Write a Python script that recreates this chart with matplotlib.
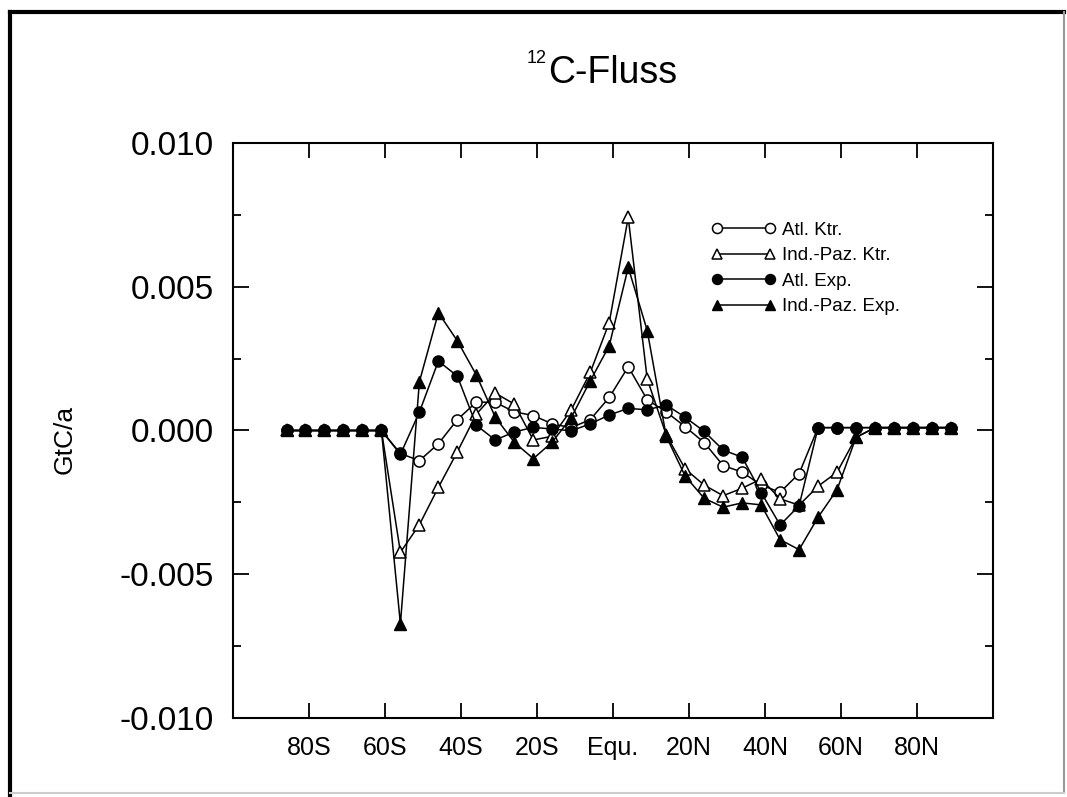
import matplotlib
matplotlib.use('Agg')
import matplotlib.pyplot as plt
from matplotlib.lines import Line2D

plt.rcParams['font.family'] = ['Liberation Sans', 'DejaVu Sans']

# latitude of the model boxes (deg, negative = south)
LAT = [-86, -81, -76, -71, -66, -61, -56, -51, -46, -41, -36, -31,
       -26, -21, -16, -11, -6, -1, 4, 9, 14, 19, 24, 29,
       34, 39, 44, 49, 54, 59, 64, 69, 74, 79, 84, 89]

ATL_KTR = [0, 0, 0, 0, 0, 0, -0.0008, -0.00105, -0.00046, 0.00038, 0.00099, 0.00098,
           0.00065, 0.00052, 0.00023, 0.0001, 0.00038, 0.00115, 0.00222, 0.00107, 0.00065, 0.00013, -0.00042, -0.00122,
           -0.00145, -0.0019, -0.00215, -0.0015, 0.0001, 0.0001, 0.0001, 0.0001, 0.0001, 0.0001, 0.0001, 0.0001]

IND_KTR = [0, 0, 0, 0, 0, 0, -0.00424, -0.00328, -0.00198, -0.00074, 0.00057, 0.0013,
           0.00092, -0.00033, -0.0002, 0.00072, 0.00202, 0.00376, 0.00742, 0.00179, -0.00015, -0.00134, -0.0019, -0.00227,
           -0.00201, -0.00169, -0.00238, -0.0026, -0.00194, -0.00145, -0.00024, 0.0001, 0.0001, 0.0001, 0.0001, 0.0001]

ATL_EXP = [0, 0, 0, 0, 0, 0, -0.00083, 0.00064, 0.00242, 0.00189, 0.00018, -0.00033,
           -0.00005, 0.00011, 0.00005, -0.00001, 0.00023, 0.00054, 0.00077, 0.00072, 0.00089, 0.00046, -0.00003, -0.00068,
           -0.00093, -0.00216, -0.00329, -0.00262, 0.0001, 0.0001, 0.0001, 0.0001, 0.0001, 0.0001, 0.0001, 0.0001]

IND_EXP = [0, 0, 0, 0, 0, 0, -0.00673, 0.0017, 0.0041, 0.00312, 0.00193, 0.00046,
           -0.00041, -0.00098, -0.0004, 0.00045, 0.00173, 0.00295, 0.00568, 0.00348, -0.0002, -0.00159, -0.00236, -0.00267,
           -0.00252, -0.00259, -0.0038, -0.00415, -0.00302, -0.00206, -0.00024, 0.0001, 0.0001, 0.0001, 0.0001, 0.0001]

LABELS = ['Atl. Ktr.', 'Ind.-Paz. Ktr.', 'Atl. Exp.', 'Ind.-Paz. Exp.']

XTICKS = [-80, -60, -40, -20, 0, 20, 40, 60, 80]
XTICKLABELS = ['80S', '60S', '40S', '20S', 'Equ.', '20N', '40N', '60N', '80N']
YTICKS = [-0.01, -0.005, 0.0, 0.005, 0.01]
YTICKLABELS = ['-0.010', '-0.005', '0.000', '0.005', '0.010']
YMINOR = [-0.0075, -0.0025, 0.0025, 0.0075]

fig = plt.figure(figsize=(10.67, 7.97), dpi=100)
ax = fig.add_axes([0.2187, 0.0995, 0.7117, 0.7207])

ax.plot(LAT, ATL_KTR, '-', color='k', lw=1.1, marker='o', ms=8,
        mfc='white', mec='k', mew=1.1, label=LABELS[0])
ax.plot(LAT, IND_KTR, '-', color='k', lw=1.1, marker='^', ms=8.5,
        mfc='white', mec='k', mew=1.1, label=LABELS[1])
ax.plot(LAT, ATL_EXP, '-', color='k', lw=1.1, marker='o', ms=8,
        mfc='k', mec='k', label=LABELS[2])
ax.plot(LAT, IND_EXP, '-', color='k', lw=1.1, marker='^', ms=8.5,
        mfc='k', mec='k', label=LABELS[3])

ax.set_xlim(-100, 100)
ax.set_ylim(-0.01, 0.01)
ax.set_xticks(XTICKS)
ax.set_xticklabels(XTICKLABELS)
ax.set_yticks(YTICKS)
ax.set_yticklabels(YTICKLABELS)
ax.set_yticks(YMINOR, minor=True)

ax.tick_params(axis='both', which='both', direction='in', top=True, right=True, width=1.3)
ax.tick_params(axis='y', which='major', length=11.5, labelsize=24, pad=14)
ax.tick_params(axis='y', which='minor', length=5.8)
ax.tick_params(axis='x', which='major', length=10.5, labelsize=18, pad=13)
for sp in ax.spines.values():
    sp.set_linewidth(1.5)

ax.legend(loc='upper left', bbox_to_anchor=(0.629, 0.864), frameon=False,
          fontsize=13.5, handlelength=3.43, handletextpad=0.36, labelspacing=0.45,
          numpoints=2, markerscale=0.9, borderaxespad=0, borderpad=0)

# title: small superscript mass number in front of the element
fig.text(0.5136, 0.896, 'C-Fluss', ha='left', va='baseline', fontsize=27)
fig.text(0.5126, 0.921, '12', ha='right', va='baseline', fontsize=13)
fig.text(0.061, 0.449, 'GtC/a', rotation=90, ha='center', va='center', fontsize=19)

# scanned page frame
fig.add_artist(Line2D([0.0094, 0.0094], [0.985, 0.0], transform=fig.transFigure, color='k', lw=3))
fig.add_artist(Line2D([0.0094, 0.997], [0.985, 0.985], transform=fig.transFigure, color='k', lw=3))
fig.add_artist(Line2D([0.997, 0.997], [0.985, 0.005], transform=fig.transFigure, color='#999999', lw=1.5))
fig.add_artist(Line2D([0.0094, 0.997], [0.005, 0.005], transform=fig.transFigure, color='#cccccc', lw=1.5))

fig.savefig('out.png', dpi=100)
